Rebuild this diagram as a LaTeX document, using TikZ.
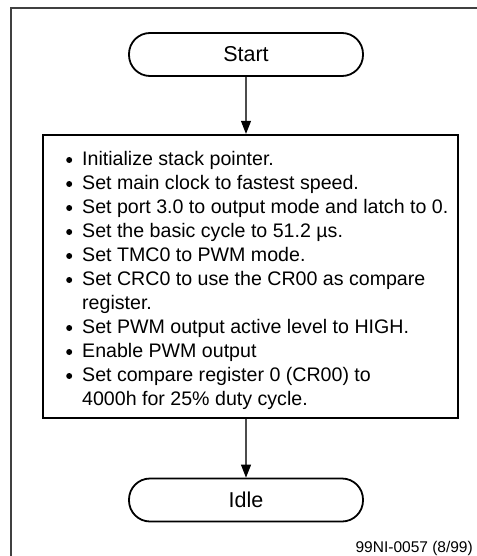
\documentclass[tikz,border=0pt]{standalone}
\usepackage{fontspec}
\setmainfont{Liberation Sans}
\usetikzlibrary{arrows.meta}
\tikzset{
  term/.style={draw=black, line width=1.8pt, rounded corners=21pt,
    minimum width=234pt, minimum height=43pt, inner sep=0pt,
    font=\fontsize{21.5}{24}\selectfont},
  procbox/.style={draw=black, line width=2.3pt, minimum width=415pt,
    minimum height=283pt, inner sep=0pt},
  conn/.style={draw=black!70, line width=1.1pt,
    -{Triangle[length=13pt,width=10pt,color=black]}},
  frameline/.style={draw=black!75, line width=2pt},
  listtext/.style={anchor=base west, inner sep=0pt, align=left,
    font=\fontsize{19.6}{24}\selectfont},
  footer/.style={anchor=base east, inner sep=0pt,
    font=\fontsize{15.5}{18}\selectfont}
}
\newcommand{\bul}{\tikz[x=1pt,y=1pt,baseline=-5pt]\fill[black] (0,0) circle (3pt);}
\begin{document}
\begin{tikzpicture}[x=1pt,y=-1pt]
\useasboundingbox (0,0) rectangle (476,556);
\fill[white] (0,0) rectangle (476,556);
% outer frame (left and top edges visible)
\coordinate (fbl) at (11,557);
\coordinate (ftl) at (11,8);
\coordinate (ftr) at (477,8);
\draw[frameline] (fbl) -- (ftl) -- (ftr);

\node[term] (start) at (246,54.5) {Start};
\node[procbox] (box) at (250.5,276.5) {};
\node[term] (idle) at (246,500) {Idle};

\node[listtext] (list) at (66,165) {%
\renewcommand{\arraystretch}{1}%
\begin{tabular}[t]{@{}l@{\hspace{10pt}}l@{}}
\bul & Initialize stack pointer.\\
\bul & Set main clock to fastest speed.\\
\bul & Set port 3.0 to output mode and latch to 0.\\
\bul & Set the basic cycle to 51.2 µs.\\
\bul & Set TMC0 to PWM mode.\\
\bul & Set CRC0 to use the CR00 as compare\\
     & register.\\
\bul & Set PWM output active level to HIGH.\\
\bul & Enable PWM output\\
\bul & Set compare register 0 (CR00) to\\
     & 4000h for 25\% duty cycle.
\end{tabular}};

\draw[conn] (start.south) -- (start.south |- box.north);
\draw[conn] (box.south -| idle.north) -- (idle.north);

\node[footer] (fig) at (473,552) {99NI-0057 (8/99)};
\end{tikzpicture}
\end{document}
